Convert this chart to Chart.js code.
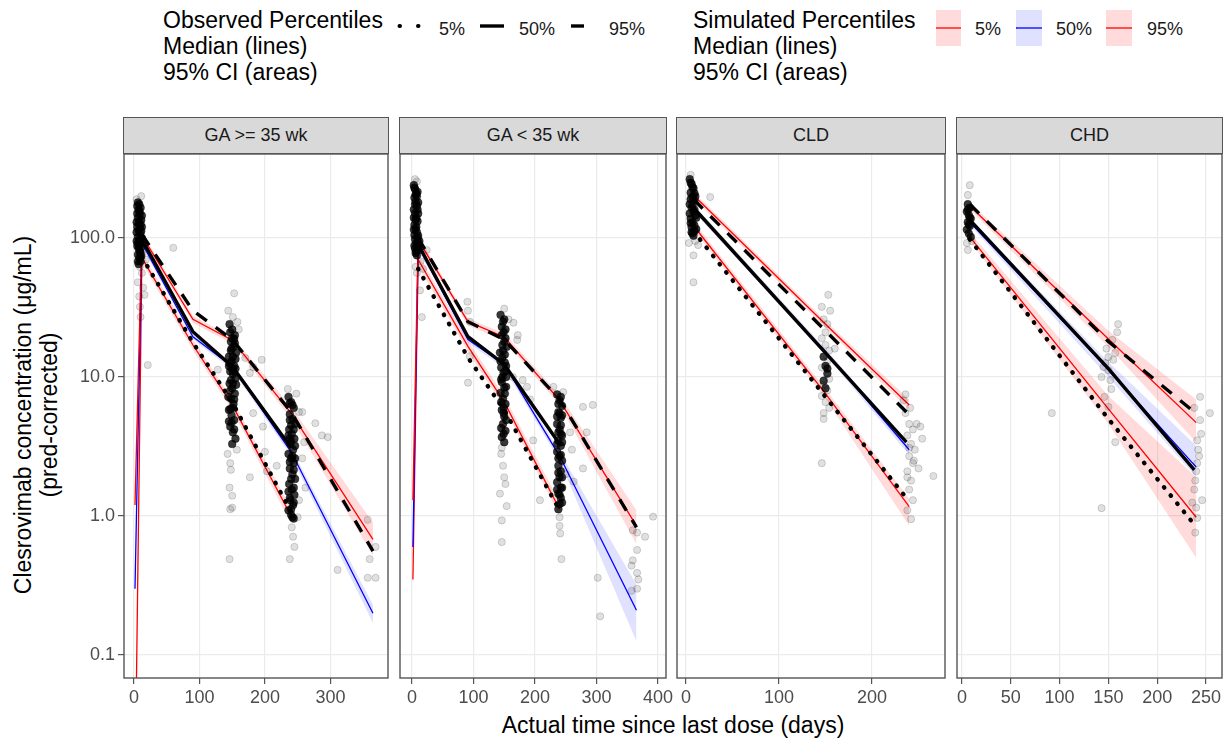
<!DOCTYPE html>
<html>
<head>
<meta charset="utf-8">
<title>Clesrovimab VPC</title>
<script src="https://cdn.jsdelivr.net/npm/chart.js@4.4.1/dist/chart.umd.min.js"></script>
<style>
  html, body { margin: 0; padding: 0; background: #fff; }
  body { position: relative; width: 1227px; height: 738px; overflow: hidden;
         font-family: "Liberation Sans", Arial, sans-serif; }
  .abs { position: absolute; white-space: nowrap; }
  .ttl { font-size: 23px; line-height: 26px; color: #000; }
  .key { font-size: 18px; line-height: 20px; color: #1a1a1a; }
  .strip { position: absolute; top: 117px; height: 37px; box-sizing: border-box;
           background: #d9d9d9; border: 1.4px solid #555; text-align: center;
           font-size: 18px; line-height: 34px; color: #1a1a1a; white-space: nowrap; }
  canvas { position: absolute; }
</style>
</head>
<body>

<!-- legends -->
<div class="abs ttl" style="left:163px;top:7px">Observed Percentiles<br>Median (lines)<br>95% CI (areas)</div>
<div class="abs ttl" style="left:693px;top:7px">Simulated Percentiles<br>Median (lines)<br>95% CI (areas)</div>
<svg class="abs" style="left:0;top:0" width="1227" height="60">
  <line x1="399.5" y1="26" x2="421" y2="26" stroke="#000" stroke-width="4" stroke-linecap="round" stroke-dasharray="0.5 18"/>
  <line x1="480" y1="26" x2="504" y2="26" stroke="#000" stroke-width="3.4"/>
  <line x1="571" y1="26" x2="593" y2="26" stroke="#000" stroke-width="3.4" stroke-dasharray="13 20"/>
  <rect x="936" y="10" width="25" height="36" fill="rgba(255,0,0,0.14)"/>
  <line x1="936" y1="28" x2="961" y2="28" stroke="#ff0000" stroke-width="1.3"/>
  <rect x="1016" y="10" width="26" height="36" fill="rgba(0,0,255,0.12)"/>
  <line x1="1016" y1="28" x2="1042" y2="28" stroke="#0000ff" stroke-width="1.3"/>
  <rect x="1106" y="10" width="26" height="36" fill="rgba(255,0,0,0.14)"/>
  <line x1="1106" y1="28" x2="1132" y2="28" stroke="#ff0000" stroke-width="1.3"/>
</svg>
<div class="abs key" style="left:439px;top:19px">5%</div>
<div class="abs key" style="left:519px;top:19px">50%</div>
<div class="abs key" style="left:609px;top:19px">95%</div>
<div class="abs key" style="left:975px;top:19px">5%</div>
<div class="abs key" style="left:1056px;top:19px">50%</div>
<div class="abs key" style="left:1147px;top:19px">95%</div>

<!-- axis titles -->
<div class="abs ttl" style="left:-174px;top:389px;width:420px;text-align:center;transform:rotate(-90deg)">Clesrovimab concentration (μg/mL)<br>(pred-corrected)</div>
<div class="abs ttl" style="left:673px;top:712px;transform:translateX(-50%)">Actual time since last dose (days)</div>

<script>
// ---- values (x = days, y = ug/mL) ----
var panelLabels = ["GA >= 35 wk", "GA < 35 wk", "CLD", "CHD"];
var yTickVals = [0.1, 1, 10, 100];
var yTickLabels = ["0.1", "1.0", "10.0", "100.0"];

// GA >= 35 wk
var ga35XTicks = [0, 100, 200, 300];
var ga35SimT = [1.5, 12, 90, 150, 240, 365];
var ga35Sim05 = [0.01, 72, 17, 6.3, 1.0];
var ga35Sim05Lo = [0.009, 66, 15.6, 5.8, 0.88];
var ga35Sim05Hi = [0.011, 78, 18.6, 6.9, 1.14];
var ga35Sim50 = [0.3, 92, 19.5, 11.9, 2.9, 0.2];
var ga35Sim50Lo = [0.27, 87, 18.6, 11.3, 2.7, 0.17];
var ga35Sim50Hi = [0.33, 97, 20.4, 12.5, 3.1, 0.23];
var ga35Sim95 = [1.2, 104, 26, 18.4, 5.5, 0.68];
var ga35Sim95Lo = [1.1, 98, 24.5, 17.4, 5.0, 0.52];
var ga35Sim95Hi = [1.3, 110, 27.5, 19.5, 6.1, 0.9];
var ga35ObsT = [12, 90, 150, 240, 365];
var ga35Obs05 = [73, 17.7, 6.6, 1.07];
var ga35Obs50 = [98, 21.2, 11.9, 3.1];
var ga35Obs95 = [106, 30, 18.6, 5.6, 0.56];
var ga35Core = [
  [5,170],[7,160],[9,150],[6,140],[8,132],[10,125],[5,120],[7,114],[9,108],[11,112],[6,102],[8,97],[10,92],[12,100],[5,88],
  [7,84],[9,80],[11,86],[6,76],[8,72],[10,68],[7,65],[9,118],[11,135],[4,130],[12,145],[8,155],[6,180],[10,165],[4,95],
  [4,110],[6,92],[8,86],[10,78],[12,120],[5,150],[7,128],[9,96],[11,74],[8,175],[6,68],
  [146,24],[150,22],[154,20],[148,18],[152,16.5],[156,15],[145,14],[149,13],[153,12],[147,11],[151,10.5],[155,9.8],[146,9],
  [150,8.3],[154,7.6],[148,7],[152,6.4],[145,5.8],[149,5.3],[153,4.9],[147,4.4],[151,4],[155,3.6],[150,3.3],[146,12.5],
  [154,17.5],[148,15.5],[152,11],[156,8.8],[144,7.2],[150,19],[148,9.5],
  [147,21],[153,18.8],[149,16],[145,12],[151,9],[155,11.5],[147,8],[153,6.9],[149,4.7],[153,4.2],[145,4.8],[151,14],
  [149,11.6],[155,13.5],[147,5.9],[151,6],
  [236,7.2],[240,6.6],[244,6],[238,5.4],[242,5],[246,4.6],[237,4.2],[241,3.9],[245,3.6],[239,3.3],[243,3],[236,2.8],[240,2.6],
  [244,2.4],[238,2.2],[242,2],[246,1.85],[237,1.7],[241,1.55],[245,1.42],[239,1.3],[243,1.2],[236,1.1],[240,1.02],[244,0.96],
  [238,3.6],[242,2.7],[240,4.5],[244,1.6],[238,1.35],
  [242,6.3],[238,4.9],[244,4.2],[236,3.8],[240,3.45],[246,2.6],[238,2.45],[244,2.15],[240,1.85],[236,1.5],[244,1.25],
  [240,1.12],[242,0.98],[246,3.2],[238,6.5]
];
var ga35Scatter = [
  [9,62],[12,56],[14,44],[9,32],[16,39],[21,12.2],[60,85],[13,78],[4,190],[11,200],[15,95],[6,48],[18,70],[8,38],[10,27],
  [153,40],[158,24.9],[160,22],[151,27],[128,11.3],[170,13.7],[177,10.7],[195,13.3],[182,11.8],[177,1.9],[200,2.9],[203,2.1],
  [218,2.3],[182,5.5],[197,4.4],[147,2.4],[148,2.15],[146,1.6],[150,1.4],[150,1.15],[147,1.12],[146,0.49],[144,30],[157,3],[143,2.8],
  [241,0.83],[243,0.71],[245,0.6],[238,0.49],[252,5.6],[257,5.6],[277,4.65],[287,3.8],[296,3.7],[243,2.4],[257,2.6],[260,3.4],
  [262,1.6],[250,0.98],[311,0.41],[357,0.94],[360,0.49],[369,0.6],[357,0.36],[369,0.36],[248,7.6],[252,1.3],[235,8.2]
];

// GA < 35 wk
var gaLtXTicks = [0, 100, 200, 300, 400];
var gaLtSimT = [1.5, 10, 91, 150, 240, 365];
var gaLtSim05 = [0.35, 70, 16.6, 6.6, 1.12];
var gaLtSim05Lo = [0.32, 63, 15.2, 6.0, 1.0];
var gaLtSim05Hi = [0.38, 77, 18.2, 7.3, 1.26];
var gaLtSim50 = [0.6, 88, 18.6, 12.3, 2.7, 0.21];
var gaLtSim50Lo = [0.55, 83, 17.6, 11.6, 2.5, 0.125];
var gaLtSim50Hi = [0.65, 93, 19.6, 13, 2.9, 0.32];
var gaLtSim95 = [1.3, 97, 25, 19.4, 6.8, 0.85];
var gaLtSim95Lo = [1.2, 91, 23.5, 18.3, 6.3, 0.63];
var gaLtSim95Hi = [1.4, 103, 26.5, 20.6, 7.4, 1.1];
var gaLtObsT = [10, 91, 150, 240, 365];
var gaLtObs05 = [60, 13.8, 5.8, 1.1];
var gaLtObs50 = [90, 19.5, 12.3, 3.3];
var gaLtObs95 = [100, 25, 18.6, 6.9, 0.83];
var gaLtCore = [
  [3,240],[5,225],[7,210],[4,195],[6,182],[8,170],[3,160],[5,150],[7,140],[9,132],[4,124],[6,116],[8,110],[10,104],[5,98],
  [7,92],[9,87],[11,82],[6,78],[8,75],[4,105],[6,135],[8,200],[10,150],[12,95],[5,175],[3,115],[9,160],
  [4,230],[6,205],[10,180],[3,140],[7,120],[9,100],[11,90],[5,84],[7,80],[4,88],[9,215],
  [144,28],[148,25],[152,22],[146,20],[150,18],[154,16.5],[143,15],[147,13.8],[151,12.7],[145,11.7],[149,10.8],[153,10],
  [146,9.2],[150,8.4],[144,7.7],[148,7],[152,6.4],[146,5.8],[150,5.2],[148,4.6],[152,4.1],[146,3.7],[150,3.4],[147,17],
  [151,14.5],[149,6],[145,9.6],[153,12],
  [150,26],[146,23],[152,19],[148,15.5],[144,13],[152,11],[147,10],[151,7.6],[145,6.6],[149,5.5],[153,4.9],[149,3.9],
  [145,4.3],[153,8.5],[149,21],
  [236,7.5],[240,6.8],[244,6.2],[238,5.6],[242,5.1],[236,4.6],[240,4.2],[244,3.8],[238,3.5],[242,3.2],[236,2.9],[240,2.7],
  [244,2.5],[238,2.3],[242,2.1],[240,1.9],[236,1.75],[244,1.6],[238,1.45],[242,1.35],[240,1.22],[238,1.12],[242,3.9],[240,5.5],[238,2.6],
  [242,7.2],[238,6.4],[244,5.3],[236,5.2],[242,4.5],[238,4],[244,3.4],[236,3.3],[242,2.75],[238,2.05],[244,1.9],[236,1.55],
  [242,1.6],[240,1.42],[244,1.25]
];
var gaLtScatter = [
  [5,265],[8,255],[13,42],[16,27],[8,56],[24,82],[6,62],[14,68],[18,60],[12,88],
  [148,2.3],[154,1.18],[146,0.93],[146,0.65],[165,24.6],[172,20],[171,18.5],[164,10],[180,9.5],[187,8.5],[192,6.9],[91,9.1],
  [90,34.8],[91,30],[94,25],[94,14.1],[150,31],[157,26],[145,2.8],[152,1.7],[143,1.45],[150,1.9],[147,4.2],[146,3.1],[197,3.5],[208,1.3],
  [240,0.98],[240,0.85],[241,0.75],[243,0.49],[257,4],[260,3.0],[263,1.77],[278,2.2],[284,4],[278,6.1],[294,6.3],[250,2.0],[230,8.5],[246,7.8],
  [359,0.79],[366,0.76],[366,0.57],[359,0.48],[357,0.44],[366,0.39],[368,0.35],[357,0.29],[366,0.3],[379,0.71],[392,0.99],[302,0.36],[306,0.19]
];

// CLD
var cldXTicks = [0, 100, 200];
var cldSimT = [10, 150, 240];
var cldSim05 = [118, 7.6, 1.17];
var cldSim05Lo = [110, 7.0, 0.85];
var cldSim05Hi = [126, 8.2, 1.33];
var cldSim50 = [159, 15.2, 3.0];
var cldSim50Lo = [150, 14.4, 2.75];
var cldSim50Hi = [168, 16.0, 3.25];
var cldSim95 = [197, 24, 6.3];
var cldSim95Lo = [186, 22.6, 5.8];
var cldSim95Hi = [208, 25.4, 6.9];
var cldObsT = [8, 150, 237];
var cldObs05 = [112, 7.2, 1.35];
var cldObs50 = [165, 14.9, 3.4];
var cldObs95 = [190, 21.5, 5.6];
var cldCore = [
  [4,265],[6,245],[8,228],[5,212],[7,198],[9,186],[4,175],[6,165],[8,155],[10,146],[5,138],[7,130],[9,123],[11,116],
  [6,110],[8,104],[4,150],[10,200],[6,120],
  [5,250],[7,232],[9,210],[5,190],[7,172],[9,160],[11,140],[5,128],[9,112],[7,108],
  [148,14],[150,12],[152,10.6],[148,9.4],[150,8.3],[152,11.5]
];
var cldScatter = [
  [8,75],[8,48],[13,89],[26,197],[5,285],[3,92],[10,95],
  [153,39],[146,32],[155,30],[148,26],[146,2.4],[148,5.0],[152,24],[160,16],[146,19],[150,17],[154,15.5],[146,11.7],[154,9.7],
  [148,8.8],[152,8],[146,7.3],[150,6.6],[154,6],[148,5.5],[152,13],[150,21],
  [236,5.5],[240,4.6],[244,4.2],[248,4.6],[252,4.4],[238,3.8],[242,3.3],[246,3.0],[240,2.7],[244,2.4],[238,2.1],[242,1.8],
  [240,1.55],[244,1.3],[238,1.1],[242,0.95],[266,1.94],[236,7.5],[234,6.8],[241,6.0],[254,3.6],[250,2.2],[240,3.1],[245,2.5],[238,1.9]
];

// CHD
var chdXTicks = [0, 50, 100, 150, 200, 250];
var chdSimT = [8, 150, 240];
var chdSim05 = [102, 5.9, 0.98];
var chdSim05Lo = [95, 4.6, 0.5];
var chdSim05Hi = [110, 7.3, 1.9];
var chdSim50 = [130, 11.3, 2.25];
var chdSim50Lo = [124, 10.0, 1.9];
var chdSim50Hi = [137, 12.8, 3.2];
var chdSim95 = [170, 18.8, 4.7];
var chdSim95Lo = [160, 16.5, 3.4];
var chdSim95Hi = [180, 21.5, 6.9];
var chdObsT = [8, 150, 238];
var chdObs05 = [98, 5.0, 0.87];
var chdObs50 = [135, 11.5, 2.15];
var chdObs95 = [175, 18, 5.6];
var chdCore = [
  [6,175],[8,165],[5,155],[7,146],[9,138],[6,130],[8,122],[5,115],[7,108],[9,102],[6,160],[8,140],[7,125]
];
var chdScatter = [
  [8,240],[6,204],[6,82],[5,92],[10,95],
  [159,21],[154,18.5],[150,13.9],[147,12.6],[155,13.3],[143,10],[150,11.2],[157,14.9],[150,6.1],[157,3.4],[143,1.14],[92,5.5],
  [152,9.5],[145,11.8],[148,16],[153,8.2],[160,24],[146,7.2],
  [244,4.9],[241,3.5],[242,3.0],[241,2.4],[239,1.8],[246,1.3],[236,1.25],[241,0.97],[239,0.76],[254,5.5],[244,7.2],[238,6],
  [243,2.7],[240,2.1],[238,1.55],[245,3.9],[240,1.15]
];

// ---- layout (pixels) ----
var FONT = '"Liberation Sans", Arial, sans-serif';
var PINK = "rgba(255,0,0,0.14)";
var LILAC = "rgba(0,0,255,0.12)";
var plotTop = 154, plotH = 524, axisH = 32, padTop = 20, padRight = 20;
var yMin = 0.0684, yMax = 402;

var panels = [
  { left: 124, width: 264, xMin: -15.3, xMax: 388, xTicks: ga35XTicks,
    simT: ga35SimT, s05: ga35Sim05, s05Lo: ga35Sim05Lo, s05Hi: ga35Sim05Hi, s50: ga35Sim50, s50Lo: ga35Sim50Lo, s50Hi: ga35Sim50Hi,
    s95: ga35Sim95, s95Lo: ga35Sim95Lo, s95Hi: ga35Sim95Hi, obsT: ga35ObsT, o05: ga35Obs05, o50: ga35Obs50, o95: ga35Obs95,
    core: ga35Core, scatter: ga35Scatter },
  { left: 400, width: 266, xMin: -19.5, xMax: 413, xTicks: gaLtXTicks,
    simT: gaLtSimT, s05: gaLtSim05, s05Lo: gaLtSim05Lo, s05Hi: gaLtSim05Hi, s50: gaLtSim50, s50Lo: gaLtSim50Lo, s50Hi: gaLtSim50Hi,
    s95: gaLtSim95, s95Lo: gaLtSim95Lo, s95Hi: gaLtSim95Hi, obsT: gaLtObsT, o05: gaLtObs05, o50: gaLtObs50, o95: gaLtObs95,
    core: gaLtCore, scatter: gaLtScatter },
  { left: 677, width: 268, xMin: -9.7, xMax: 278.5, xTicks: cldXTicks,
    simT: cldSimT, s05: cldSim05, s05Lo: cldSim05Lo, s05Hi: cldSim05Hi, s50: cldSim50, s50Lo: cldSim50Lo, s50Hi: cldSim50Hi,
    s95: cldSim95, s95Lo: cldSim95Lo, s95Hi: cldSim95Hi, obsT: cldObsT, o05: cldObs05, o50: cldObs50, o95: cldObs95,
    core: cldCore, scatter: cldScatter },
  { left: 957, width: 265, xMin: -5.1, xMax: 266.4, xTicks: chdXTicks,
    simT: chdSimT, s05: chdSim05, s05Lo: chdSim05Lo, s05Hi: chdSim05Hi, s50: chdSim50, s50Lo: chdSim50Lo, s50Hi: chdSim50Hi,
    s95: chdSim95, s95Lo: chdSim95Lo, s95Hi: chdSim95Hi, obsT: chdObsT, o05: chdObs05, o50: chdObs50, o95: chdObs95,
    core: chdCore, scatter: chdScatter }
];

function xy(ts, vs) {
  var out = [];
  for (var i = 0; i < vs.length; i++) out.push({ x: ts[i], y: vs[i] });
  return out;
}
function pairs(list) {
  return list.map(function(d) { return { x: d[0], y: d[1] }; });
}
function lineSet(data, color, width, dash, cap) {
  return { data: data, borderColor: color, borderWidth: width, borderDash: dash || [],
           borderCapStyle: cap || "butt", pointRadius: 0, fill: false, clip: 0 };
}
function bandSet(data, target, color) {
  return { data: data, borderColor: "rgba(0,0,0,0)", borderWidth: 0, pointRadius: 0, clip: 0,
           backgroundColor: color, fill: target === null ? false : { target: target } };
}
function dotSet(data, fill, edge, r) {
  return { data: data, showLine: false, pointRadius: r, pointBackgroundColor: fill,
           pointBorderColor: edge, pointBorderWidth: 0.8, clip: 0 };
}

// panel outline on top of everything
var panelBox = {
  id: "panelBox",
  afterDraw: function(chart) {
    var a = chart.chartArea, ctx = chart.ctx;
    ctx.save();
    ctx.strokeStyle = "#555";
    ctx.lineWidth = 1.4;
    ctx.strokeRect(a.left, a.top, a.right - a.left, a.bottom - a.top);
    ctx.restore();
  }
};

panels.forEach(function(p, idx) {
  // strip
  var strip = document.createElement("div");
  strip.className = "strip";
  strip.style.left = (p.left - 0.7) + "px";
  strip.style.width = (p.width + 1.4) + "px";
  strip.textContent = panelLabels[idx];
  document.body.appendChild(strip);

  var padLeft = idx === 0 ? 70 : 20;
  var cv = document.createElement("canvas");
  cv.width = padLeft + p.width + padRight;
  cv.height = padTop + plotH + axisH;
  cv.style.left = (p.left - padLeft) + "px";
  cv.style.top = (plotTop - padTop) + "px";
  document.body.appendChild(cv);

  // index 0 is drawn on top
  var datasets = [
    lineSet(xy(p.obsT, p.o95), "#000", 3.4, [13, 11]),
    lineSet(xy(p.obsT, p.o50), "#000", 3.4),
    lineSet(xy(p.obsT, p.o05), "#000", 4.4, [0.5, 10], "round"),
    dotSet(pairs(p.core), "rgba(0,0,0,0.78)", "rgba(0,0,0,0.45)", 3.9),
    dotSet(pairs(p.scatter), "rgba(0,0,0,0.12)", "rgba(0,0,0,0.2)", 3.6),
    lineSet(xy(p.simT, p.s95), "#ff0000", 1.3),
    lineSet(xy(p.simT, p.s50), "#0000ff", 1.3),
    lineSet(xy(p.simT, p.s05), "#ff0000", 1.3),
    bandSet(xy(p.simT, p.s95Hi), 9, PINK),
    bandSet(xy(p.simT, p.s95Lo), null, PINK),
    bandSet(xy(p.simT, p.s50Hi), 11, LILAC),
    bandSet(xy(p.simT, p.s50Lo), null, LILAC),
    bandSet(xy(p.simT, p.s05Hi), 13, PINK),
    bandSet(xy(p.simT, p.s05Lo), null, PINK)
  ];

  var showY = idx === 0;
  new Chart(cv, {
    type: "line",
    data: { datasets: datasets },
    plugins: [panelBox],
    options: {
      responsive: false,
      animation: false,
      events: [],
      layout: { padding: { left: showY ? 0 : padLeft, right: padRight, top: padTop, bottom: 0 } },
      plugins: { legend: { display: false }, tooltip: { enabled: false } },
      scales: {
        x: {
          type: "linear", min: p.xMin, max: p.xMax,
          afterBuildTicks: function(s) { s.ticks = p.xTicks.map(function(v) { return { value: v }; }); },
          afterFit: function(s) { s.height = axisH; },
          border: { display: false },
          grid: { color: "#ebebeb", lineWidth: 1.2, tickColor: "#555", tickLength: 6, tickWidth: 1.2 },
          ticks: { autoSkip: false, maxRotation: 0, padding: 3, color: "#4d4d4d",
                   font: { family: FONT, size: 18 },
                   callback: function(v) { return String(v); } }
        },
        y: {
          type: "logarithmic", min: yMin, max: yMax, position: "left",
          afterBuildTicks: function(s) { s.ticks = yTickVals.map(function(v) { return { value: v }; }); },
          afterFit: function(s) { s.width = showY ? padLeft : 0; },
          border: { display: false },
          grid: { color: "#ebebeb", lineWidth: 1.2, tickColor: "#555", tickLength: 6, tickWidth: 1.2, drawTicks: showY },
          ticks: { display: showY, autoSkip: false, padding: 3, color: "#4d4d4d",
                   font: { family: FONT, size: 18 },
                   callback: function(v, i) { return yTickLabels[i]; } }
        }
      }
    }
  });
});
</script>
</body>
</html>
